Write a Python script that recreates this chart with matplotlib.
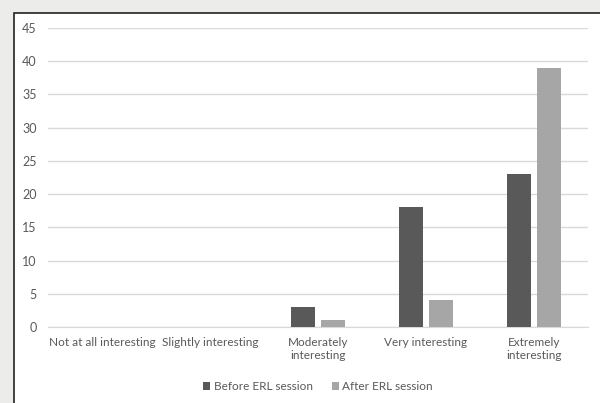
import numpy as np
import matplotlib.pyplot as plt
from matplotlib.patches import Rectangle

categories = ["Not at all interesting", "Slightly interesting", "Moderately\ninteresting",
              "Very interesting", "Extremely\ninteresting"]
before = [0, 0, 3, 18, 23]
after = [0, 0, 1, 4, 39]
yticks = [0, 5, 10, 15, 20, 25, 30, 35, 40, 45]

plt.rcParams['font.family'] = ['Lato', 'DejaVu Sans']
txt = '#595959'

fig = plt.figure(figsize=(6, 4.03), dpi=100, facecolor='#ececea')
# white chart area with a dark border on top/left
fig.patches.append(Rectangle((13.5/600, -0.1), 1.2, 1 - 12.5/403 + 0.1, transform=fig.transFigure,
                             facecolor='white', edgecolor='#222222', linewidth=1.2, zorder=-5))

ax = fig.add_axes([48/600, 1 - 327/403, 540/600, (327 - 28)/403])
ax.set_facecolor('none')

x = np.arange(len(categories))
w = 0.222
ax.bar(x - 0.14, before, w, color='#595959', label='Before ERL session', zorder=3)
ax.bar(x + 0.14, after, w, color='#a6a6a6', label='After ERL session', zorder=3)

ax.set_xlim(-0.5, 4.5)
ax.set_ylim(0, 45)
ax.set_yticks(yticks)
ax.yaxis.grid(True, color='#d9d9d9', linewidth=1)
ax.set_axisbelow(True)
for s in ['top', 'right', 'left']:
    ax.spines[s].set_visible(False)
ax.spines['bottom'].set_color('#d9d9d9')
ax.tick_params(axis='both', length=0, colors=txt)
ax.tick_params(axis='y', pad=8, labelsize=9)
ax.tick_params(axis='x', pad=7, labelsize=8.5)
ax.set_xticks(x)
ax.set_xticklabels(categories, linespacing=1.3)

ax.legend(loc='center', bbox_to_anchor=(0.5, -0.2), ncol=2, frameon=False, fontsize=8.5,
          labelcolor=txt, handlelength=0.6, handleheight=0.6, handletextpad=0.3, columnspacing=1.6)

fig.savefig('out.png', dpi=100, facecolor=fig.get_facecolor())
